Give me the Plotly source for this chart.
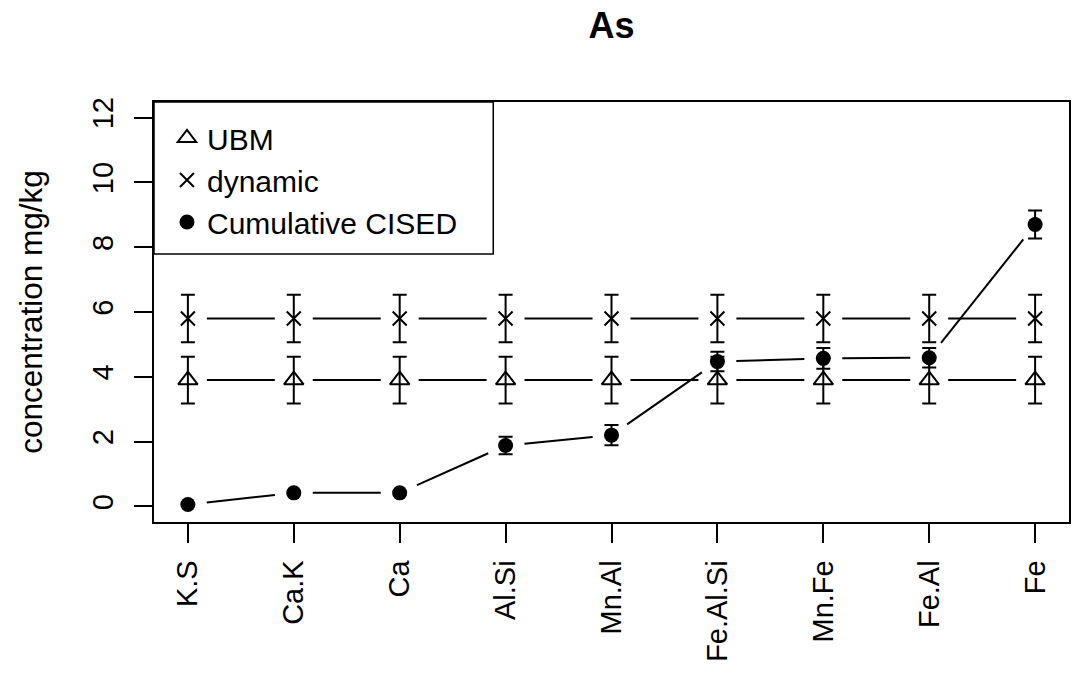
import plotly.graph_objects as go

categories = ["K.S", "Ca.K", "Ca", "Al.Si", "Mn.Al", "Fe.Al.Si", "Mn.Fe", "Fe.Al", "Fe"]
ubm = [3.9, 3.9, 3.9, 3.9, 3.9, 3.9, 3.9, 3.9, 3.9]
ubm_err = [0.72] * 9
dynamic = [5.8, 5.8, 5.8, 5.8, 5.8, 5.8, 5.8, 5.8, 5.8]
dynamic_err = [0.73] * 9
cised = [0.06, 0.42, 0.42, 1.88, 2.2, 4.47, 4.57, 4.59, 8.7]
cised_err = [0.03, 0.05, 0.05, 0.27, 0.31, 0.3, 0.32, 0.3, 0.43]

W, H = 1073, 674
ML, MR, MT, MB = 154, 2, 102, 152
XR = [0.68, 9.32]
YR = [-0.48, 12.48]
PW, PH = W - ML - MR, H - MT - MB
pxx = PW / (XR[1] - XR[0])
pxy = PH / (YR[1] - YR[0])
GAP = 19

xs = list(range(1, len(categories) + 1))


def gapped(x, y):
    ox, oy = [], []
    for i in range(len(x) - 1):
        dx = (x[i + 1] - x[i]) * pxx
        dy = (y[i + 1] - y[i]) * pxy
        L = (dx * dx + dy * dy) ** 0.5
        if L <= 2 * GAP:
            continue
        t = GAP / L
        ox += [x[i] + t * (x[i + 1] - x[i]), x[i + 1] - t * (x[i + 1] - x[i]), None]
        oy += [y[i] + t * (y[i + 1] - y[i]), y[i + 1] - t * (y[i + 1] - y[i]), None]
    return ox, oy


FONT = "Liberation Sans, Arial, sans-serif"
fig = go.Figure()

series = [
    ("UBM", ubm, ubm_err, dict(symbol="triangle-up-open", size=17, color="black", line=dict(width=2, color="black"))),
    ("dynamic", dynamic, dynamic_err, dict(symbol="x-thin-open", size=14, color="black", line=dict(width=2, color="black"))),
    ("Cumulative CISED", cised, cised_err, dict(symbol="circle", size=15, color="black", line=dict(width=0, color="black"))),
]

for name, ys, err, marker in series:
    lx, ly = gapped(xs, ys)
    fig.add_trace(go.Scatter(x=lx, y=ly, mode="lines", line=dict(color="black", width=2),
                             showlegend=False, hoverinfo="skip"))
    fig.add_trace(go.Scatter(x=xs, y=ys, mode="markers", name=name, marker=marker,
                             error_y=dict(type="data", array=err, visible=True, color="black",
                                          thickness=2, width=7)))

# legend frame (R-style box in the top-left corner of the plot region)
LEG_W, LEG_H = 340, 152
fig.add_shape(type="rect", xref="paper", yref="paper",
              x0=0, x1=LEG_W / PW, y0=1 - LEG_H / PH, y1=1,
              line=dict(color="black", width=1.5), fillcolor="white", layer="above")

fig.update_layout(
    width=W, height=H,
    margin=dict(l=ML, r=MR, t=MT, b=MB),
    plot_bgcolor="white", paper_bgcolor="white",
    font=dict(family=FONT, size=29, color="black"),
    title=dict(text="<b>As</b>", x=0.5, xref="paper", xanchor="center",
               y=1 - 25 / H, yref="container", yanchor="middle",
               font=dict(family=FONT, size=36, color="black")),
    showlegend=True,
    legend=dict(x=13 / PW, y=1 - 10 / PH, xanchor="left", yanchor="top",
                bgcolor="rgba(0,0,0,0)", borderwidth=0,
                font=dict(family=FONT, size=30, color="black"),
                tracegroupgap=0, itemsizing="trace"),
    xaxis=dict(range=XR, tickmode="array", tickvals=xs, ticktext=categories,
               tickangle=-90, showgrid=False, zeroline=False,
               showline=True, mirror=True, linecolor="black", linewidth=1.5,
               ticks="outside", ticklen=19, tickwidth=1.5, tickcolor="black",
               ticklabelstandoff=6),
    yaxis=dict(range=YR, tickmode="array", tickvals=[0, 2, 4, 6, 8, 10, 12],
               tickangle=-90, showgrid=False, zeroline=False,
               showline=True, mirror=True, linecolor="black", linewidth=1.5,
               ticks="outside", ticklen=18, tickwidth=1.5, tickcolor="black",
               ticklabelstandoff=10,
               title=dict(text="concentration mg/kg", standoff=35,
                          font=dict(family=FONT, size=31.5, color="black"))),
)

fig.write_html("out.html")
